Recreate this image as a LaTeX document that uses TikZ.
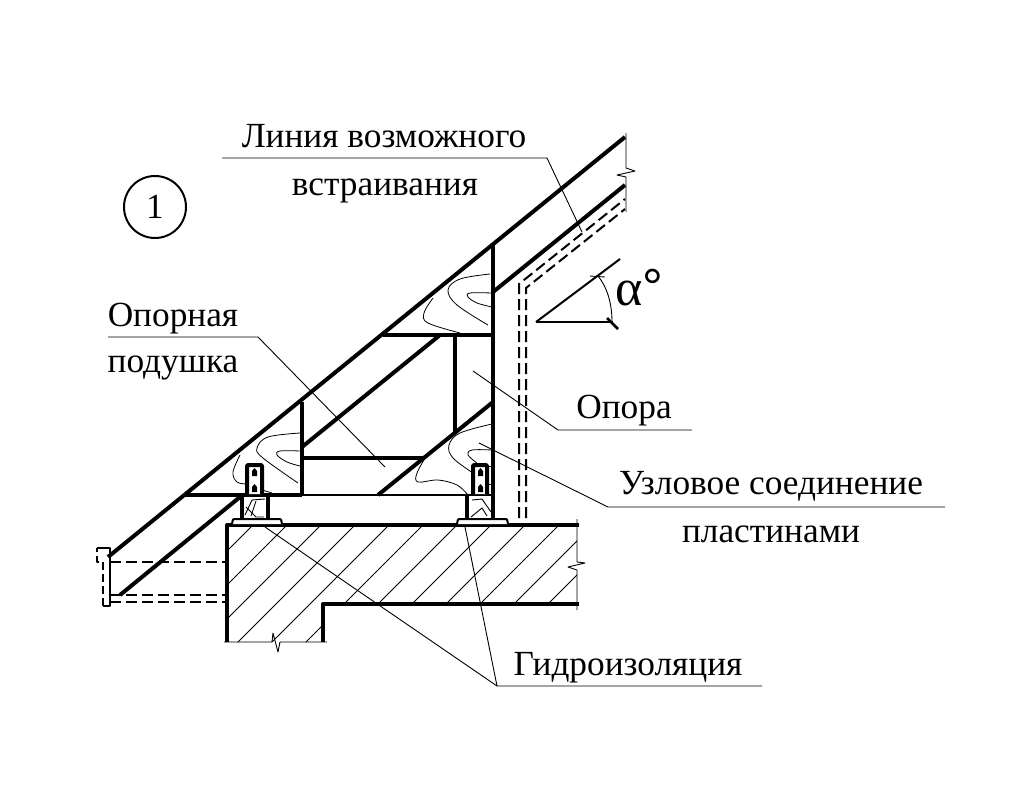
\documentclass[tikz,border=0pt]{standalone}
\usepackage{fontspec}
\setmainfont{Liberation Serif}
\newfontfamily\alphafont{Liberation Sans}
\begin{document}
\begin{tikzpicture}[x = 1pt, y = -1pt, line join = round,
                        bold/.style = {line width = 4pt},
                        medium/.style = {line width = 2pt},
                        thin line/.style = {line width = 0.9pt},
                        hidden/.style = {line width = 2pt, dash pattern = on 11pt off 5pt},
                        label/.style = {anchor = base, font = \fontsize{35.3}{40}\selectfont},
                        grain/.style = {line width = 0.8pt, smooth, tension = 0.6}]
        \useasboundingbox (0,0) rectangle (1012,806);

        % hatching of the slab
        \begin{scope}
        \clip (227,525) -- (577,525) -- (577,604) -- (323,604) -- (323,642) -- (227,642) -- cycle;
        \foreach \c in {0,...,12}
                \draw [thin line] ({778+34*\c-400},400) -- ({778+34*\c-700},700);
        \end{scope}

        % rafter lines
        \draw [bold] (108,557) -- (625,137);
        \draw [bold] (120,595) -- (240,497);
        \draw [bold] (302,447) -- (440,335);
        \draw [bold] (493,292) -- (625,185);
        \draw [bold] (378,495) -- (493,402);

        % truss frame
        \draw [bold] (493,245) -- (493,518);
        \draw [bold] (302,402) -- (302,496);
        \draw [bold] (185,495) -- (302,495);
        \draw [medium] (302,495) -- (493,495);
        \draw [bold] (383,335) -- (493,335);
        \draw [bold] (455,335) -- (455,432);
        \draw [bold] (302,458) -- (424,458);

        % slab outline
        \draw [bold] (227,642) -- (227,525) -- (579,525);
        \draw [bold] (323,642) -- (323,604) -- (579,604);
        \draw [thin line] (224,642) -- (272,642) -- (273,633) -- (278,652) -- (280,642) -- (327,642);
        \draw [thin line] (577,519) -- (577,562) -- (585,563) -- (568,567) -- (577,570) -- (577,610);

        % support blocks and base plates
        \draw [bold] (242,497) -- (242,519);
        \draw [bold] (268,497) -- (268,519);
        \draw [bold] (467,495) -- (467,519);
        \draw [medium, rounded corners = 1pt, fill = white] (232,524) -- (233,519) -- (281,519) -- (282,524);
        \draw [medium, rounded corners = 1pt, fill = white] (457,524) -- (458,519) -- (507,519) -- (508,524);

        % wood in the support blocks
        \draw [thin line] (245,515) -- (252,500) -- (265,499);
        \draw [thin line] (246,507) -- (256,517) -- (264,517);
        \draw [thin line] (256,501) -- (251,516);
        \draw [thin line] (472,500) -- (482,499) -- (491,512);
        \draw [thin line] (471,517) -- (482,508) -- (487,516);

        % connector plates
        \draw [bold, rounded corners = 1pt, fill = white] (247,494) -- (247,465) -- (262,465) -- (262,494);
        \draw [bold, rounded corners = 1pt, fill = white] (473,494) -- (473,465) -- (487,465) -- (487,494);
        \fill (252,476) -- (252,471) -- (254.5,468) -- (257,471) -- (257,476) -- cycle;
        \fill (252,492) -- (252,487) -- (254.5,484) -- (257,487) -- (257,492) -- cycle;
        \fill (478,476) -- (478,471) -- (480.5,468) -- (483,471) -- (483,476) -- cycle;
        \fill (478,492) -- (478,487) -- (480.5,484) -- (483,487) -- (483,492) -- cycle;

        % grain near the left joint
        \draw [grain] plot coordinates {(240,455) (233,472) (237,482) (247,484)};
        \draw [grain] (262,490) -- (272,493);
        \draw [grain] plot coordinates {(300,433) (268,437) (257,448) (263,458) (298,483)};
        \draw [grain] plot coordinates {(300,451) (280,451) (277,455) (287,462) (300,466)};

        % grain near the upper joint
        \draw [grain] plot coordinates {(433,298) (424,313) (428,323) (460,333)};
        \draw [grain] plot coordinates {(490,274) (460,279) (448,290) (457,305) (488,325)};
        \draw [grain] plot coordinates {(492,293) (470,293) (468,297) (477,303) (492,307)};

        % grain near the right joint
        \draw [grain] plot coordinates {(427,455) (417,473) (418,482) (438,480) (457,485) (468,495)};
        \draw [grain] plot coordinates {(492,424) (460,433) (449,445) (453,458) (473,473)};
        \draw [grain] plot coordinates {(492,450) (472,450) (468,455) (477,463)};
        \draw [grain] (487,466) -- (492,467);
        \draw [grain] (487,485) -- (492,484);

        % dashed lining under the roof
        \draw [hidden] (519,518) -- (519,284) -- (625,199);
        \draw [hidden] (526,518) -- (526,288) -- (625,209);
        \draw [thin line] (626,133) -- (626,168) -- (635,171) -- (617,175) -- (626,177) -- (626,212);

        % eave board
        \draw [medium] (97,548) -- (110,548) -- (110,606) -- (103,606);
        \draw [hidden, dash pattern = on 8pt off 4pt] (103,606) -- (103,562) -- (97,562) -- (97,548);
        \draw [hidden] (110,562) -- (227,562);
        \draw [hidden] (110,595) -- (227,595);
        \draw [hidden] (110,602) -- (227,602);

        % angle mark
        \coordinate (A0) at (536,322);
        \draw [medium] (A0) -- (620,259);
        \draw [medium] (A0) -- (613,322);
        \draw [line width = 2.5pt] (607,318) -- (618,329);
        \draw [thin line] (590,276) -- (605,277);
        \draw [thin line] (598,276) .. controls (607,287) and (612,303) .. (612,322);
        \node [anchor = base west, inner sep = 0pt, font = \fontsize{52}{56}\selectfont] (alpha) at (615,305) {α\alphafont°};

        % number
        \node [circle, draw, line width = 2pt, minimum size = 62pt, inner sep = 0pt, font = \fontsize{35.3}{40}\selectfont] (num) at (155,207) {1};

        % labels
        \node [label] (T1) at (384,147) {Линия возможного};
        \node [label] (T2) at (385,195) {встраивания};
        \node [label] (T3) at (173,326) {Опорная};
        \node [label] (T4) at (173,372) {подушка};
        \node [label] (T5) at (624,418) {Опора};
        \node [label] (T6) at (771,494) {Узловое соединение};
        \node [label] (T7) at (771,542) {пластинами};
        \node [label] (T8) at (628,675) {Гидроизоляция};

        % leaders
        \draw [thin line] (222,158) -- (547,158) -- (582,232);
        \draw [thin line] (108,337) -- (258,337) -- (385,467);
        \draw [thin line] (692,430) -- (558,430) -- (473,371);
        \draw [thin line] (945,507) -- (608,507) -- (479,443);
        \draw [thin line] (762,686) -- (497,686) -- (465,527);
        \draw [thin line] (497,686) -- (265,527);
\end{tikzpicture}
\end{document}
